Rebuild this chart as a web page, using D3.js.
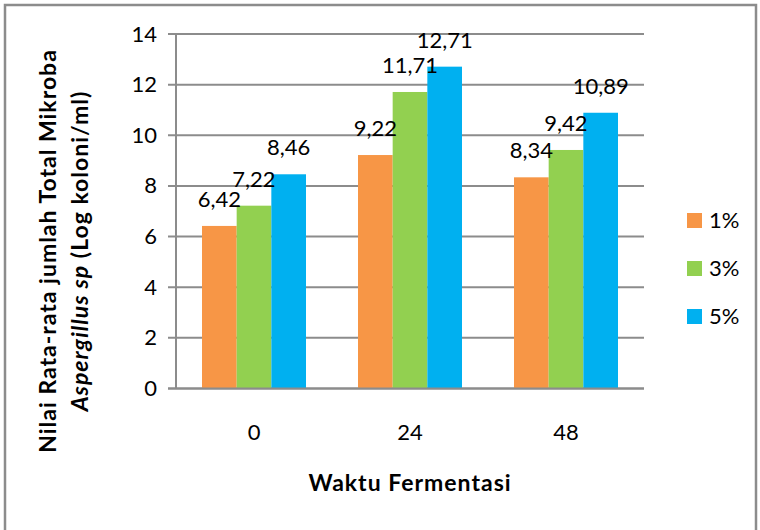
<!DOCTYPE html>
<html>
<head>
<meta charset="utf-8">
<script src="https://cdn.jsdelivr.net/npm/d3@7"></script>
<style>
  body { margin: 0; background: #fff; }
  text { font-family: Lato, "Open Sans", sans-serif; fill: #000; }
</style>
</head>
<body>
<div id="chart"></div>
<script>
// data
var categories = ["0", "24", "48"];
var seriesNames = ["1%", "3%", "5%"];
var seriesColors = ["#F79646", "#92D050", "#00B0F0"];
var values1 = [6.42, 9.22, 8.34];
var values3 = [7.22, 11.71, 9.42];
var values5 = [8.46, 12.71, 10.89];
var yTicks = [0, 2, 4, 6, 8, 10, 12, 14];

var seriesValues = [values1, values3, values5];

var svgWidth = 760;
var svgHeight = 530;

var margin = { top: 34, right: 116, bottom: 141.5, left: 176 };
var width = svgWidth - margin.left - margin.right;
var height = svgHeight - margin.top - margin.bottom;

var svg = d3.select("#chart")
  .append("svg")
  .attr("width", svgWidth)
  .attr("height", svgHeight);

// outer border
svg.append("rect")
  .attr("x", 5)
  .attr("y", 5)
  .attr("width", 751)
  .attr("height", 540)
  .attr("fill", "none")
  .attr("stroke", "#8c8c8c")
  .attr("stroke-width", 2.5);

var chartGroup = svg.append("g")
  .attr("transform", `translate(${margin.left}, ${margin.top})`);

// scales
var x0 = d3.scaleBand()
  .domain(categories)
  .range([0, width]);

var barW = x0.bandwidth() / 4.5;
var x1 = d3.scaleBand()
  .domain(seriesNames)
  .range([0, barW * 3]);

var yScale = d3.scaleLinear()
  .domain([0, 14])
  .range([height, 0]);

// gridlines
chartGroup.append("g")
  .selectAll("line")
  .data(yTicks)
  .enter()
  .append("line")
  .attr("x1", -8)
  .attr("x2", width)
  .attr("y1", d => yScale(d))
  .attr("y2", d => yScale(d))
  .attr("stroke", "#8c8c8c")
  .attr("stroke-width", 2);

// y axis
var leftAxis = d3.axisLeft(yScale)
  .tickValues(yTicks)
  .tickSize(0)
  .tickPadding(19);

var yAxisG = chartGroup.append("g").call(leftAxis);
yAxisG.select(".domain").remove();
yAxisG.selectAll("text")
  .attr("font-size", 22)
  .attr("font-family", "Lato, sans-serif")
  .attr("fill", "#000");

chartGroup.append("line")
  .attr("x1", 0).attr("x2", 0)
  .attr("y1", 0).attr("y2", height)
  .attr("stroke", "#8c8c8c")
  .attr("stroke-width", 2);

// bars
var groups = chartGroup.selectAll(".grp")
  .data(categories)
  .enter()
  .append("g")
  .attr("class", "grp")
  .attr("transform", d => `translate(${x0(d) + (x0.bandwidth() - barW * 3) / 2}, 0)`);

var fmt = d => d3.format(".2f")(d).replace(".", ",");

seriesNames.forEach(function(s, si) {
  groups.append("rect")
    .attr("x", x1(s))
    .attr("y", (d, i) => yScale(seriesValues[si][i]))
    .attr("width", x1.bandwidth())
    .attr("height", (d, i) => height - yScale(seriesValues[si][i]))
    .attr("fill", seriesColors[si]);
});

// x axis line (drawn over bars)
chartGroup.append("line")
  .attr("x1", -8).attr("x2", width)
  .attr("y1", height).attr("y2", height)
  .attr("stroke", "#8c8c8c")
  .attr("stroke-width", 2);

// data labels
seriesNames.forEach(function(s, si) {
  groups.append("text")
    .attr("x", x1(s) + x1.bandwidth() / 2)
    .attr("y", (d, i) => yScale(seriesValues[si][i]) - 19)
    .attr("text-anchor", "middle")
    .attr("font-size", 22)
    .text((d, i) => fmt(seriesValues[si][i]));
});

// x tick labels
var bottomAxis = d3.axisBottom(x0).tickSize(0).tickPadding(36);
var xAxisG = chartGroup.append("g")
  .attr("transform", `translate(0, ${height})`)
  .call(bottomAxis);
xAxisG.select(".domain").remove();
xAxisG.selectAll("text")
  .attr("font-size", 22)
  .attr("font-family", "Lato, sans-serif")
  .attr("fill", "#000");

// axis titles
svg.append("text")
  .attr("x", 410)
  .attr("y", 491)
  .attr("text-anchor", "middle")
  .attr("font-size", 23)
  .attr("letter-spacing", 1)
  .attr("font-weight", "bold")
  .text("Waktu Fermentasi");

var yTitle = svg.append("text")
  .attr("transform", "translate(0, 251) rotate(-90)")
  .attr("text-anchor", "middle")
  .attr("font-size", 23)
  .attr("letter-spacing", 1)
  .attr("font-weight", "bold");

yTitle.append("tspan")
  .attr("x", 0)
  .attr("y", 56)
  .text("Nilai Rata-rata jumlah Total Mikroba");

var line2 = yTitle.append("tspan")
  .attr("x", 0)
  .attr("y", 88);
line2.append("tspan").attr("font-style", "italic").text("Aspergillus sp");
line2.append("tspan").text(" (Log koloni/ml)");

// legend
var legend = svg.append("g")
  .selectAll("g")
  .data(seriesNames)
  .enter()
  .append("g")
  .attr("transform", (d, i) => `translate(687, ${213 + i * 48})`);

legend.append("rect")
  .attr("width", 15)
  .attr("height", 15)
  .attr("fill", (d, i) => seriesColors[i]);

legend.append("text")
  .attr("x", 22)
  .attr("y", 15)
  .attr("font-size", 22)
  .text(d => d);
</script>
</body>
</html>
